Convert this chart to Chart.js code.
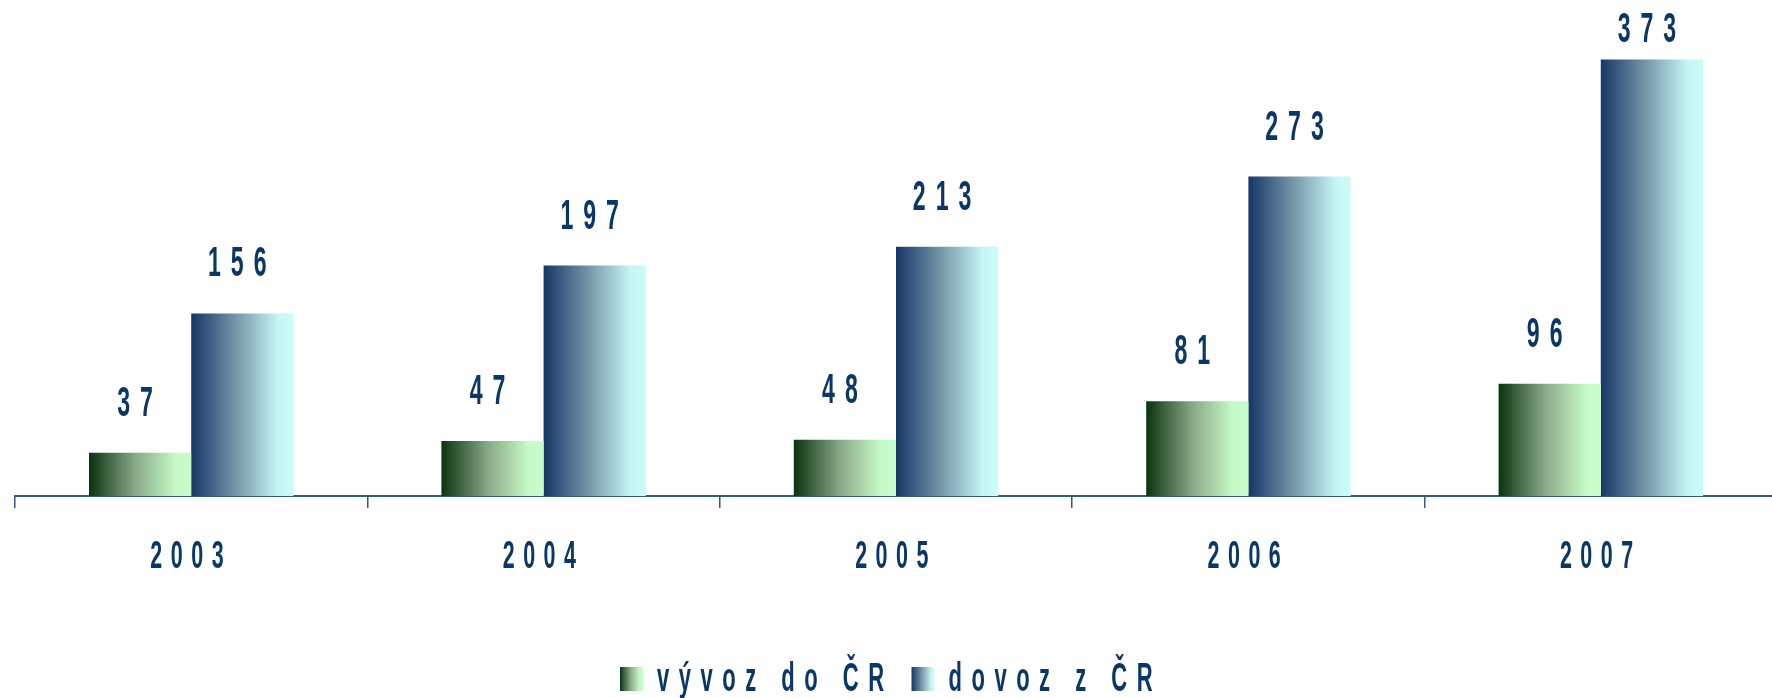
<!DOCTYPE html>
<html>
<head>
<meta charset="utf-8">
<script src="https://cdn.jsdelivr.net/npm/chart.js@4/dist/chart.umd.min.js"></script>
<style>
  html, body { margin: 0; padding: 0; background: #fff; overflow: hidden; }
  #wrap { width: 1777px; height: 698px; position: relative; }
</style>
</head>
<body>
<div id="wrap"><canvas id="tradeChart"></canvas></div>
<script>
const years = ['2003', '2004', '2005', '2006', '2007'];
const vyvoz = [37, 47, 48, 81, 96];
const dovoz = [156, 197, 213, 273, 373];
const seriesNames = ['vývoz do ČR', 'dovoz z ČR'];

const textColor = '#0a3768';
const axisColor = '#2e5a8e';
const greenStops = [[0, '#0a3310'], [0.45, '#88a888'], [0.85, '#c6fac6'], [1, '#c8fcc8']];
const blueStops = [[0, '#163766'], [0.45, '#7898aa'], [0.85, '#c5f6f4'], [1, '#cafcf8']];
const catPct = 0.58;

function makeGradient(ctx, x0, x1, stops) {
  const g = ctx.createLinearGradient(x0, 0, x1, 0);
  stops.forEach(s => g.addColorStop(s[0], s[1]));
  return g;
}

function barFill(stops, side) {
  return (c) => {
    const chart = c.chart;
    if (!chart.chartArea || c.dataIndex === undefined) return stops[2][1];
    const xs = chart.scales.x;
    const bw = xs.width / years.length * catPct / 2;
    const center = xs.getPixelForValue(c.dataIndex);
    const x0 = side === 0 ? center - bw : center;
    return makeGradient(chart.ctx, x0, x0 + bw, stops);
  };
}

// squeezed, letter-spaced text like the original slide
function drawSpaced(ctx, text, x, y, size, sx, spacing, align) {
  ctx.font = 'bold ' + size + 'px "Liberation Sans", Arial, sans-serif';
  const chars = Array.from(text);
  const widths = chars.map(ch => ctx.measureText(ch).width * sx);
  const total = widths.reduce((a, b) => a + b + spacing, 0);
  let cx = align === 'center' ? x - total / 2 : x;
  chars.forEach((ch, i) => {
    ctx.save();
    ctx.translate(cx, y);
    ctx.scale(sx, 1);
    ctx.fillText(ch, 0, 0);
    ctx.restore();
    cx += widths[i] + spacing;
  });
  return total;
}

const labelPlugin = {
  id: 'labelPlugin',
  afterDraw(chart) {
    const ctx = chart.ctx;
    const xs = chart.scales.x;
    const bottom = chart.chartArea.bottom;
    ctx.save();
    ctx.fillStyle = textColor;
    ctx.textBaseline = 'alphabetic';
    ctx.textAlign = 'left';

    // value labels above bars
    [vyvoz, dovoz].forEach((vals, d) => {
      const meta = chart.getDatasetMeta(d);
      meta.data.forEach((bar, i) => {
        const y = Math.max(bar.y - 37, 42);
        drawSpaced(ctx, String(vals[i]), bar.x, y, 42, 0.55, 10, 'center');
      });
    });

    // category labels
    years.forEach((yr, i) => {
      drawSpaced(ctx, yr, xs.getPixelForValue(i), bottom + 72, 39, 0.55, 8.5, 'center');
    });

    // legend
    const ly = bottom + 195;
    let lx = chart.chartArea.left + 605;
    [greenStops, blueStops].forEach((stops, k) => {
      ctx.fillStyle = makeGradient(ctx, lx, lx + 23, stops);
      ctx.fillRect(lx, ly - 24, 23, 24);
      lx += 37;
      ctx.fillStyle = textColor;
      const w = drawSpaced(ctx, seriesNames[k], lx, ly, 40, 0.55, 9.5, 'left');
      lx += w + 18;
    });
    ctx.restore();
  }
};

new Chart(document.getElementById('tradeChart'), {
  type: 'bar',
  data: {
    labels: years,
    datasets: [
      { label: seriesNames[0], data: vyvoz, backgroundColor: barFill(greenStops, 0) },
      { label: seriesNames[1], data: dovoz, backgroundColor: barFill(blueStops, 1) }
    ]
  },
  options: {
    responsive: true,
    maintainAspectRatio: false,
    animation: false,
    datasets: { bar: { categoryPercentage: catPct, barPercentage: 1, borderWidth: 0 } },
    layout: { padding: { left: 15, right: 0, top: 28, bottom: 190 } },
    plugins: { legend: { display: false }, tooltip: { enabled: false } },
    scales: {
      x: {
        grid: { offset: true, drawOnChartArea: false, drawTicks: true, tickLength: 12, color: axisColor, lineWidth: 1.5 },
        border: { color: axisColor, width: 2 },
        ticks: { display: false }
      },
      y: { display: false, min: 0, max: 400 }
    }
  },
  plugins: [labelPlugin]
});
</script>
</body>
</html>
